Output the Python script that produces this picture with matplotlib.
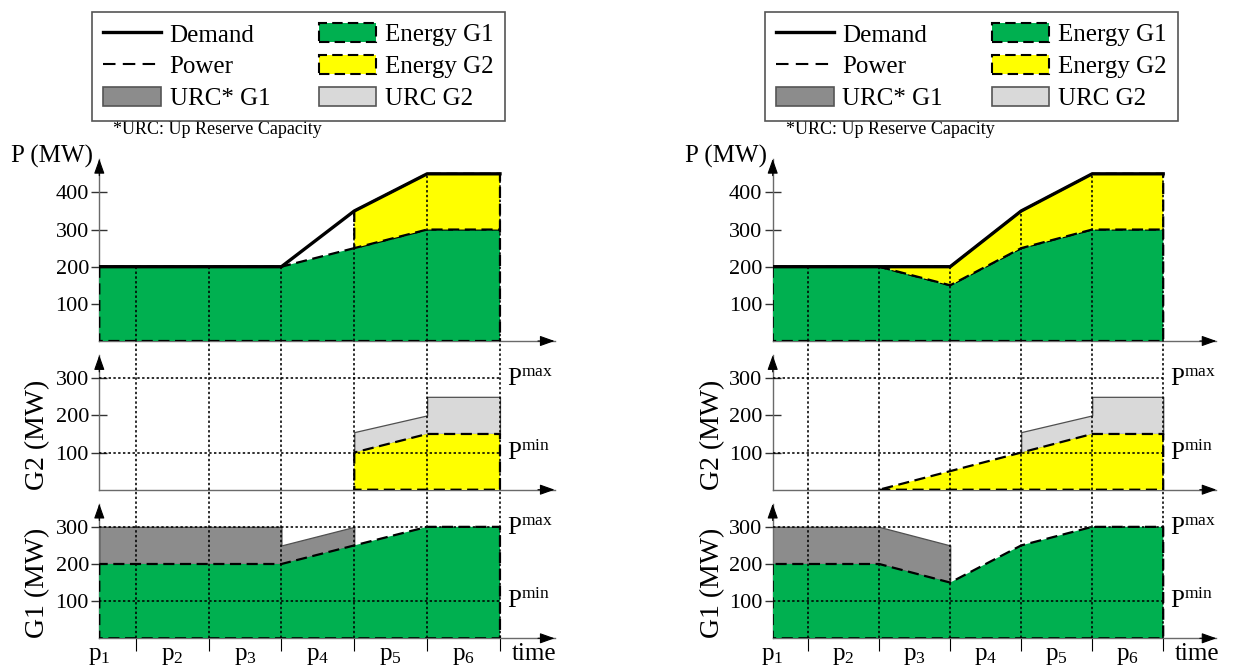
import numpy as np
import matplotlib.pyplot as plt
from matplotlib.lines import Line2D
from matplotlib.patches import Patch

plt.rcParams['font.family'] = 'Liberation Serif'
plt.rcParams['mathtext.fontset'] = 'custom'
plt.rcParams['mathtext.rm'] = 'Liberation Serif'
plt.rcParams['mathtext.it'] = 'Liberation Serif:italic'

# Границы периодов (p1 начинается на оси и занимает полпериода)
knots = [0, 0.5, 1.5, 2.5, 3.5, 4.5, 5.5]
period_pos = [0, 1, 2, 3, 4, 5]
period_labels = [r'$\mathrm{p}_{%d}$' % k for k in range(1, 7)]

# Спрос, МВт
demand = [200, 200, 200, 200, 350, 450, 450]

# Случай слева: G2 включается только в p5
g1_left = [200, 200, 200, 200, 250, 300, 300]
g2_left = [np.nan, np.nan, np.nan, np.nan, 100, 150, 150]
urc1_left_t = [0, 2.5, 2.5, 3.5]
urc1_left_top = [300, 300, 250, 300]

# Случай справа: G2 включается раньше, G1 снижается в p3
g1_right = [200, 200, 200, 150, 250, 300, 300]
g2_right = [np.nan, np.nan, 0, 50, 100, 150, 150]
urc1_right_t = [0, 1.5, 2.5]
urc1_right_top = [300, 300, 250]

# Резерв G2 одинаков в обоих случаях
urc2_t = [3.5, 4.5, 4.5, 5.5]
urc2_top = [155, 200, 250, 250]

p_min, p_max = 100, 300
p_ticks = [100, 200, 300, 400]
g_ticks = [100, 200, 300]

legend_labels = ['Demand', 'Power', 'URC* G1', 'Energy G1', 'Energy G2', 'URC G2']
footnote = '*URC: Up Reserve Capacity'

# Оформление
W, H = 1235, 666
MW_PX = 0.3715      # пикселей на 1 МВт
T_END = 6.25        # конец оси времени (стрелка)
GREEN = '#00b050'
YELLOW = '#ffff00'
URC1_COLOR = '#8c8c8c'
URC2_COLOR = '#d9d9d9'
AXIS_GRAY = '#6a6a6a'
DASH = (0, (5, 2.5))
DOT = (0, (1.5, 1.5))

fig = plt.figure(figsize=(W / 100, H / 100), dpi=100)


def add_axes_px(x0, dx, y0, ylim_top):
    # x0, y0 - пиксели нуля осей (y отсчитывается сверху)
    return fig.add_axes([x0 / W, 1 - y0 / H, T_END * dx / W, ylim_top * MW_PX / H])


def arrow(ax, xy, offset):
    ax.annotate('', xy=xy, xytext=offset, textcoords='offset points',
                arrowprops=dict(arrowstyle='-|>,head_length=0.9,head_width=0.32',
                                mutation_scale=10, color='black', lw=0.8,
                                shrinkA=0, shrinkB=0),
                annotation_clip=False)


def setup(ax, ylim_top, yticks, y_arrow):
    ax.set_xlim(0, T_END)
    ax.set_ylim(0, ylim_top)
    ax.patch.set_visible(False)
    ax.spines[['top', 'right']].set_visible(False)
    ax.spines[['left', 'bottom']].set_color(AXIS_GRAY)
    ax.spines[['left', 'bottom']].set_linewidth(1.0)
    ax.spines['left'].set_bounds(0, y_arrow)
    ax.set_xticks([])
    ax.set_yticks(yticks)
    ax.tick_params(axis='y', direction='inout', length=11, width=1.0,
                   color='#333333', labelsize=16, pad=2)
    arrow(ax, (0, y_arrow), (0, -12))
    arrow(ax, (T_END, 0), (-12, 0))


def limits(ax):
    for lvl, name in [(p_max, 'max'), (p_min, 'min')]:
        ax.text(5.6, lvl - 19, r'$\mathrm{P}^{\mathrm{%s}}$' % name, fontsize=18,
                ha='left', va='baseline')
    ax.hlines([p_min, p_max], 0, knots[-1], colors='black', lw=1.15,
              linestyles=DOT, zorder=4)


def draw_case(x0, dx, g1, g2, urc1_t, urc1_top, legend_x):
    t = np.array(knots, float)
    g1 = np.array(g1, float)
    g2 = np.array(g2, float)
    on = ~np.isnan(g2)

    ax_p = add_axes_px(x0, dx, 341.0, 500)
    ax_g2 = add_axes_px(x0, dx, 489.7, 400)
    ax_g1 = add_axes_px(x0, dx, 638.3, 400)
    setup(ax_p, 500, p_ticks, 490)
    setup(ax_g2, 400, g_ticks, 362)
    setup(ax_g1, 400, g_ticks, 362)

    # Суммарная мощность и спрос
    ax_p.fill_between(t, 0, g1, facecolor=GREEN, edgecolor='black', lw=1.6,
                      linestyle=DASH, zorder=3)
    ax_p.fill_between(t[on], g1[on], g1[on] + g2[on], facecolor=YELLOW,
                      edgecolor='black', lw=1.6, linestyle=DASH, zorder=3)
    ax_p.plot(t, demand, color='black', lw=2.4, zorder=6)
    ax_p.vlines(t[1:], 0, demand[1:], colors='black', lw=1.15, linestyles=DOT, zorder=4)
    ax_p.text(-0.08, 498, 'P (MW)', fontsize=18, ha='right', va='center')

    # Генератор G2
    ax_g2.fill_between(urc2_t, np.interp(urc2_t, t[on], g2[on]), urc2_top,
                       facecolor=URC2_COLOR, edgecolor='#505050', lw=0.9, zorder=2)
    ax_g2.fill_between(t[on], 0, g2[on], facecolor=YELLOW, edgecolor='black',
                       lw=1.6, linestyle=DASH, zorder=3)
    ax_g2.vlines(t[1:], 0, 400, colors='black', lw=1.15, linestyles=DOT, zorder=4)
    limits(ax_g2)
    ax_g2.text(-0.84, 148, 'G2 (MW)', fontsize=20, rotation=90, ha='center', va='center')

    # Генератор G1
    ax_g1.fill_between(urc1_t, np.interp(urc1_t, t, g1), urc1_top,
                       facecolor=URC1_COLOR, edgecolor='#505050', lw=0.9, zorder=2)
    ax_g1.fill_between(t, 0, g1, facecolor=GREEN, edgecolor='black', lw=1.6,
                       linestyle=DASH, zorder=3)
    ax_g1.vlines(t[1:], 0, 400, colors='black', lw=1.15, linestyles=DOT, zorder=4)
    limits(ax_g1)
    ax_g1.text(-0.84, 148, 'G1 (MW)', fontsize=20, rotation=90, ha='center', va='center')

    ax_g1.set_xticks(period_pos, period_labels)
    ax_g1.set_xticks(t[1:], minor=True)
    ax_g1.tick_params(axis='x', which='major', length=0, labelsize=18, pad=5)
    ax_g1.tick_params(axis='x', which='minor', direction='out', length=9,
                      width=0.8, color='black')
    ax_g1.text(5.97, -58, 'time', fontsize=18, ha='center', va='baseline')

    # Легенда
    handles = [Line2D([], [], color='black', lw=2.4),
               Line2D([], [], color='black', lw=1.5, linestyle=(0, (6, 3.5))),
               Patch(facecolor=URC1_COLOR, edgecolor='#555555', lw=1.2),
               Patch(facecolor=GREEN, edgecolor='black', lw=1.5, linestyle=DASH),
               Patch(facecolor=YELLOW, edgecolor='black', lw=1.5, linestyle=DASH),
               Patch(facecolor=URC2_COLOR, edgecolor='#555555', lw=1.2)]
    leg = fig.legend(handles, legend_labels, loc='upper left',
                     bbox_to_anchor=(legend_x / W, 1 - 12 / H), ncol=2,
                     fontsize=18, handlelength=2.3, handleheight=0.8,
                     handletextpad=0.35, columnspacing=1.95, labelspacing=0.34,
                     borderpad=0.45, borderaxespad=0, fancybox=False,
                     edgecolor='#555555', framealpha=1)
    leg.get_frame().set_linewidth(1.2)
    fig.text((legend_x + 21) / W, 1 - 129 / H, footnote, fontsize=13,
             ha='left', va='center')


draw_case(99.3, 72.85, g1_left, g2_left, urc1_left_t, urc1_left_top, 92)
draw_case(772.7, 71.0, g1_right, g2_right, urc1_right_t, urc1_right_top, 765)

fig.savefig('out.png', dpi=100)
